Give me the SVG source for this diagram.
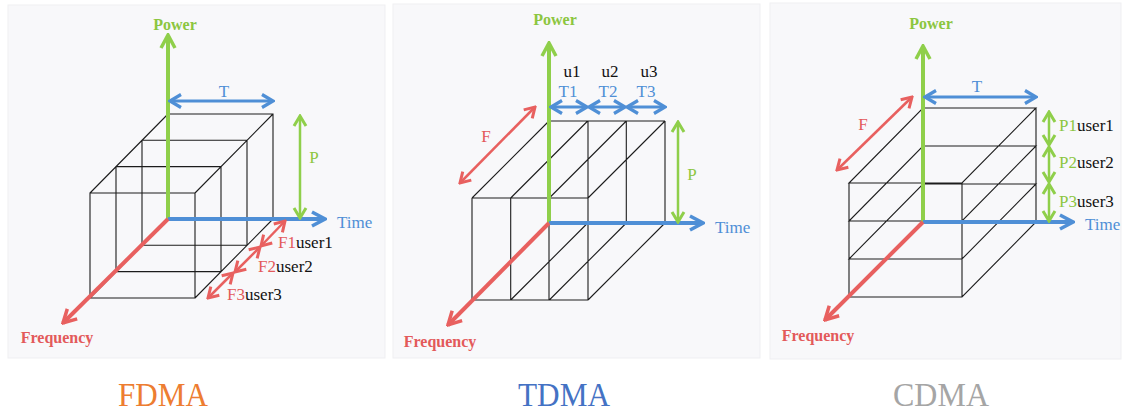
<svg xmlns="http://www.w3.org/2000/svg" width="1122" height="412" viewBox="0 0 1122 412">
<defs>
<style>
.bg{fill:#f8f8fa;stroke:#efeff2;stroke-width:1}
.cube{fill:none;stroke:#1c1c1c;stroke-width:1.1}
.ax{fill:none;stroke-width:4}
.dbl{fill:none;stroke-width:3}
.thin{fill:none;stroke-width:2.5}
.g{stroke:#8fcf4a}
.b{stroke:#4f8fd6}
.r{stroke:#e8605f}
.t{font-family:"Liberation Serif","Times New Roman",serif;font-size:17px}
.bold{font-family:"Liberation Serif","Times New Roman",serif;font-size:16px;font-weight:bold}
.tg{fill:#8cc63f}
.tb{fill:#4f8fd6}
.tr{fill:#e35a5a}
.tk{fill:#111}
.cap{font-family:"Liberation Serif","Times New Roman",serif;font-size:34px}
</style>
<marker id="mg" viewBox="-15 -9 17 18" refX="0" refY="0" markerWidth="17" markerHeight="18" orient="auto-start-reverse" markerUnits="userSpaceOnUse"><path d="M-13,-7 L0,0 L-13,7" fill="none" stroke="#8fcf4a" stroke-width="3.5"/></marker>
<marker id="mb" viewBox="-15 -9 17 18" refX="0" refY="0" markerWidth="17" markerHeight="18" orient="auto-start-reverse" markerUnits="userSpaceOnUse"><path d="M-13,-7 L0,0 L-13,7" fill="none" stroke="#4f8fd6" stroke-width="3.5"/></marker>
<marker id="mr" viewBox="-15 -9 17 18" refX="0" refY="0" markerWidth="17" markerHeight="18" orient="auto-start-reverse" markerUnits="userSpaceOnUse"><path d="M-13,-7 L0,0 L-13,7" fill="none" stroke="#e8605f" stroke-width="3.5"/></marker>
<marker id="sg" viewBox="-13 -8 15 16" refX="0" refY="0" markerWidth="15" markerHeight="16" orient="auto-start-reverse" markerUnits="userSpaceOnUse"><path d="M-10,-6 L0,0 L-10,6" fill="none" stroke="#8fcf4a" stroke-width="3"/></marker>
<marker id="sb" viewBox="-13 -8 15 16" refX="0" refY="0" markerWidth="15" markerHeight="16" orient="auto-start-reverse" markerUnits="userSpaceOnUse"><path d="M-11,-6.5 L0,0 L-11,6.5" fill="none" stroke="#4f8fd6" stroke-width="3.2"/></marker>
<marker id="sr" viewBox="-13 -8 15 16" refX="0" refY="0" markerWidth="15" markerHeight="16" orient="auto-start-reverse" markerUnits="userSpaceOnUse"><path d="M-10,-6 L0,0 L-10,6" fill="none" stroke="#e8605f" stroke-width="3"/></marker>
</defs>
<rect width="1122" height="412" fill="#ffffff"/>

<!-- FDMA panel -->
<g id="fdma">
<rect class="bg" x="8" y="5" width="377" height="353"/>
<g id="fdma-cube">
<path class="cube" d="M168,114 H273 V219 H168 Z M142,140.3 H247 V245.3 H142 Z M116,166.6 H221 V271.6 H116 Z M90,193 H195 V298 H90 Z M168,114 L90,193 M273,114 L195,193 M273,219 L195,298 M168,219 L90,298"/>
</g>
<g id="fdma-connectors">
<line class="ax g" x1="168" y1="219" x2="168" y2="35" marker-end="url(#mg)"/>
<line class="ax b" x1="168" y1="219" x2="325" y2="219" marker-end="url(#mb)"/>
<line class="ax r" x1="168" y1="219" x2="63" y2="323" marker-end="url(#mr)"/>
<line class="dbl b" x1="170" y1="101" x2="273" y2="101" marker-start="url(#sb)" marker-end="url(#sb)"/>
<line class="thin g" x1="300" y1="116" x2="300" y2="218" marker-start="url(#sg)" marker-end="url(#sg)"/>
<line class="thin r" x1="285" y1="221" x2="261" y2="246" marker-start="url(#sr)" marker-end="url(#sr)"/>
<line class="thin r" x1="260" y1="247" x2="235" y2="272" marker-start="url(#sr)" marker-end="url(#sr)"/>
<line class="thin r" x1="233" y1="273" x2="208" y2="298" marker-start="url(#sr)" marker-end="url(#sr)"/>
</g>
<g id="fdma-labels">
<text class="bold tg" x="175" y="30" text-anchor="middle">Power</text>
<text class="t tb" x="224" y="97" text-anchor="middle">T</text>
<text class="t tg" x="314" y="163" text-anchor="middle">P</text>
<text class="t tb" x="337" y="228">Time</text>
<text class="t" x="278" y="248"><tspan class="tr">F1</tspan><tspan class="tk">user1</tspan></text>
<text class="t" x="258" y="272"><tspan class="tr">F2</tspan><tspan class="tk">user2</tspan></text>
<text class="t" x="227" y="300"><tspan class="tr">F3</tspan><tspan class="tk">user3</tspan></text>
<text class="bold tr" x="57" y="343" text-anchor="middle">Frequency</text>
</g>
</g>

<!-- TDMA panel -->
<g id="tdma">
<rect class="bg" x="393" y="4" width="367" height="354"/>
<g id="tdma-cube">
<path class="cube" d="M549,121 H665 M472,198 H588 M549,121 L472,198 M587.7,121 L510.7,198 M626.3,121 L549.3,198 M665,121 L588,198 M588,121 V300 M626.3,121 V223 M665,121 V223 M549,121 V300 M510.7,198 V300 M472,198 V300 M472,300 H588 M549,223 H665 M549,223 L472,300 M587.7,223 L510.7,300 M626.3,223 L549.3,300 M665,223 L588,300"/>
</g>
<g id="tdma-connectors">
<line class="ax g" x1="549" y1="223" x2="549" y2="43" marker-end="url(#mg)"/>
<line class="ax b" x1="549" y1="223" x2="703" y2="223" marker-end="url(#mb)"/>
<line class="ax r" x1="549" y1="223" x2="448" y2="325" marker-end="url(#mr)"/>
<line class="dbl b" x1="551" y1="107" x2="587" y2="107" marker-start="url(#sb)" marker-end="url(#sb)"/>
<line class="dbl b" x1="589" y1="107" x2="625" y2="107" marker-start="url(#sb)" marker-end="url(#sb)"/>
<line class="dbl b" x1="627" y1="107" x2="665" y2="107" marker-start="url(#sb)" marker-end="url(#sb)"/>
<line class="thin g" x1="678" y1="122" x2="678" y2="222" marker-start="url(#sg)" marker-end="url(#sg)"/>
<line class="thin r" x1="535" y1="107" x2="460" y2="183" marker-start="url(#sr)" marker-end="url(#sr)"/>
</g>
<g id="tdma-labels">
<text class="bold tg" x="555" y="25" text-anchor="middle">Power</text>
<text class="t tk" x="572" y="77" text-anchor="middle">u1</text>
<text class="t tk" x="610" y="77" text-anchor="middle">u2</text>
<text class="t tk" x="649" y="77" text-anchor="middle">u3</text>
<text class="t tb" x="568" y="97" text-anchor="middle">T1</text>
<text class="t tb" x="608" y="97" text-anchor="middle">T2</text>
<text class="t tb" x="646" y="97" text-anchor="middle">T3</text>
<text class="t tr" x="486" y="142" text-anchor="middle">F</text>
<text class="t tg" x="692" y="180" text-anchor="middle">P</text>
<text class="t tb" x="715" y="233">Time</text>
<text class="bold tr" x="440" y="347" text-anchor="middle">Frequency</text>
</g>
</g>

<!-- CDMA panel -->
<g id="cdma">
<rect class="bg" x="770" y="3" width="351" height="356"/>
<g id="cdma-cube">
<path class="cube" d="M923,108 H1036 L962,183 H849 Z M923,146 H1036 L962,221 H849 Z M923,184 H1036 L962,259 H849 Z M923,222 H1036 L962,297 H849 Z M1036,108 V222 M923,108 V222 M849,183 V297 M962,183 V297"/>
</g>
<g id="cdma-connectors">
<line class="ax g" x1="923" y1="222" x2="923" y2="46" marker-end="url(#mg)"/>
<line class="ax b" x1="923" y1="222" x2="1073" y2="222" marker-end="url(#mb)"/>
<line class="ax r" x1="923" y1="222" x2="825" y2="320" marker-end="url(#mr)"/>
<line class="dbl b" x1="925" y1="97" x2="1036" y2="97" marker-start="url(#sb)" marker-end="url(#sb)"/>
<line class="thin r" x1="912" y1="97" x2="837" y2="170" marker-start="url(#sr)" marker-end="url(#sr)"/>
<line class="thin g" x1="1049" y1="112" x2="1049" y2="145" marker-start="url(#sg)" marker-end="url(#sg)"/>
<line class="thin g" x1="1049" y1="147" x2="1049" y2="182" marker-start="url(#sg)" marker-end="url(#sg)"/>
<line class="thin g" x1="1049" y1="184" x2="1049" y2="221" marker-start="url(#sg)" marker-end="url(#sg)"/>
</g>
<g id="cdma-labels">
<text class="bold tg" x="931" y="29" text-anchor="middle">Power</text>
<text class="t tb" x="977" y="92" text-anchor="middle">T</text>
<text class="t tr" x="863" y="130" text-anchor="middle">F</text>
<text class="t" x="1059" y="131"><tspan class="tg">P1</tspan><tspan class="tk">user1</tspan></text>
<text class="t" x="1059" y="168"><tspan class="tg">P2</tspan><tspan class="tk">user2</tspan></text>
<text class="t" x="1059" y="207"><tspan class="tg">P3</tspan><tspan class="tk">user3</tspan></text>
<text class="t tb" x="1085" y="230">Time</text>
<text class="bold tr" x="818" y="341" text-anchor="middle">Frequency</text>
</g>
</g>

<g id="captions">
<text class="cap" x="163" y="406" text-anchor="middle" fill="#ed7d31" textLength="90" lengthAdjust="spacingAndGlyphs">FDMA</text>
<text class="cap" x="564" y="406" text-anchor="middle" fill="#4472c4" textLength="92" lengthAdjust="spacingAndGlyphs">TDMA</text>
<text class="cap" x="941" y="406" text-anchor="middle" fill="#a5a5a5" textLength="96" lengthAdjust="spacingAndGlyphs">CDMA</text>
</g>
</svg>
